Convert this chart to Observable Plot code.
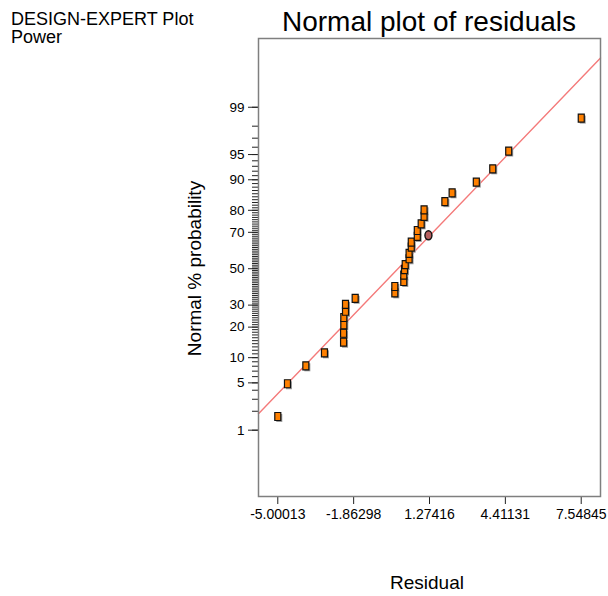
<!DOCTYPE html>
<html>
<head>
<meta charset="utf-8">
<script src="https://cdn.jsdelivr.net/npm/d3@7"></script>
<script src="https://cdn.jsdelivr.net/npm/@observablehq/plot@0.6"></script>
<style>
  html, body { margin: 0; padding: 0; background: #fff; }
  #chart { position: relative; width: 608px; height: 596px; }
</style>
</head>
<body>
<div id="chart"></div>
<script>
// ---- Data ----
const residuals = [-5.00, -4.60, -3.84, -3.07, -2.28, -2.28, -2.27, -2.27, -2.20, -2.20, -1.80,
  -0.16, -0.16, 0.21, 0.21, 0.24, 0.27, 0.43, 0.43, 0.52, 0.52, 0.77, 0.77, 0.93, 1.05, 1.05,
  1.91, 2.21, 3.21, 3.89, 4.55, 7.55];
const probabilities = [1.66, 4.87, 8.09, 11.28, 14.48, 17.63, 20.95, 24.1, 27.0, 30.4, 33.5,
  36.4, 39.9, 42.7, 46.3, 49.5, 52.4, 55.7, 58.8, 62.2, 64.9, 67.9, 70.9, 74.1, 77.5, 80.2,
  83.3, 86.3, 89.4, 92.5, 95.5, 98.5];
const highlightResidual = [1.23];
const highlightProbability = [68.5];
const lineResiduals = [-5.798, 8.346];
const lineProbabilities = [1.83, 99.88];
const xTicks = [-5.00013, -1.86298, 1.27416, 4.41131, 7.54845];
const xTickLabels = ["-5.00013", "-1.86298", "1.27416", "4.41131", "7.54845"];
const yMajorTicks = [1, 5, 10, 20, 30, 50, 70, 80, 90, 95, 99];
const yMinorTicks = d3.range(1, 100);

// inverse normal CDF (Acklam) for the probability axis
function probit(p) {
  const a = [-3.969683028665376e+01, 2.209460984245205e+02, -2.759285104469687e+02, 1.383577518672690e+02, -3.066479806614716e+01, 2.506628277459239e+00];
  const b = [-5.447609879822406e+01, 1.615858368580409e+02, -1.556989798598866e+02, 6.680131188771972e+01, -1.328068155288572e+01];
  const c = [-7.784894002430293e-03, -3.223964580411365e-01, -2.400758277161838e+00, -2.549732539343734e+00, 4.374664141464968e+00, 2.938163982698783e+00];
  const d = [7.784695709041462e-03, 3.224671290700398e-01, 2.445134137142996e+00, 3.754408661907416e+00];
  const pl = 0.02425, ph = 1 - pl;
  if (p < pl) {
    const q = Math.sqrt(-2 * Math.log(p));
    return (((((c[0]*q+c[1])*q+c[2])*q+c[3])*q+c[4])*q+c[5]) / ((((d[0]*q+d[1])*q+d[2])*q+d[3])*q+1);
  }
  if (p <= ph) {
    const q = p - 0.5, r = q * q;
    return (((((a[0]*r+a[1])*r+a[2])*r+a[3])*r+a[4])*r+a[5])*q / (((((b[0]*r+b[1])*r+b[2])*r+b[3])*r+b[4])*r+1);
  }
  const q = Math.sqrt(-2 * Math.log(1 - p));
  return -(((((c[0]*q+c[1])*q+c[2])*q+c[3])*q+c[4])*q+c[5]) / ((((d[0]*q+d[1])*q+d[2])*q+d[3])*q+1);
}
const z = pct => probit(pct / 100);

const points = residuals.map((r, i) => ({r, p: probabilities[i]}));
const highlight = highlightResidual.map((r, i) => ({r, p: highlightProbability[i]}));
const fitLine = lineResiduals.map((r, i) => ({r, p: lineProbabilities[i]}));

const squareSymbol = { draw(ctx) { ctx.moveTo(-3, -4); ctx.lineTo(3, -4); ctx.lineTo(3, 4); ctx.lineTo(-3, 4); ctx.closePath(); } };
const ellipseSymbol = { draw(ctx) {
  const rx = 3.5, ry = 4.5, k = 0.5523;
  ctx.moveTo(rx, 0);
  ctx.bezierCurveTo(rx, ry * k, rx * k, ry, 0, ry);
  ctx.bezierCurveTo(-rx * k, ry, -rx, ry * k, -rx, 0);
  ctx.bezierCurveTo(-rx, -ry * k, -rx * k, -ry, 0, -ry);
  ctx.bezierCurveTo(rx * k, -ry, rx, -ry * k, rx, 0);
  ctx.closePath();
} };

const majorZ = yMajorTicks.map(z);
const minorZ = yMinorTicks.map(z);

const plot = Plot.plot({
  width: 608,
  height: 596,
  marginLeft: 258,
  marginRight: 8,
  marginTop: 38,
  marginBottom: 100,
  style: { fontFamily: "'Liberation Sans', Arial, sans-serif", fontSize: "13px", background: "white", color: "black" },
  x: { domain: [-5.798, 8.346] },
  y: { domain: [-3.282, 3.317] },
  marks: [
    Plot.axisY(minorZ, { tickSize: 6, tickFormat: () => "", stroke: "#222", label: null }),
    Plot.axisY(majorZ, { tickSize: 10, tickPadding: 4, stroke: "#222", label: null,
      tickFormat: v => { const i = majorZ.findIndex(m => Math.abs(m - v) < 1e-9); return i >= 0 ? String(yMajorTicks[i]) : ""; } }),
    Plot.axisX(xTicks, { tickSize: 8, tickPadding: 5, stroke: "#222", label: null,
      tickFormat: v => xTickLabels[xTicks.indexOf(v)] }),
    Plot.line(fitLine, { x: "r", y: d => z(d.p), stroke: "#f47a7a", strokeWidth: 1.4 }),
    Plot.dot(points, { x: "r", y: d => z(d.p), symbol: squareSymbol, fill: "#9c9c9c", stroke: "none", dx: 1.5, dy: 1.5 }),
    Plot.dot(points, { x: "r", y: d => z(d.p), symbol: squareSymbol, fill: "#ff8000", stroke: "#111", strokeWidth: 1.2 }),
    Plot.dot(highlight, { x: "r", y: d => z(d.p), symbol: ellipseSymbol, fill: "#b65f5f", stroke: "#111", strokeWidth: 1.4 }),
    Plot.frame({ stroke: "#7f7f7f", strokeWidth: 1.5 })
  ]
});

const svg = d3.select(plot);
// tick label sizes
svg.selectAll("g[aria-label='x-axis tick label']").attr("font-size", 14).selectAll("text").attr("font-size", 14);
svg.selectAll("g[aria-label='y-axis tick label']").attr("font-size", 13.5).selectAll("text").attr("font-size", 13.5);

const font = "'Liberation Sans', Arial, sans-serif";
function label(x, y, size, txt, anchor, transform) {
  const t = svg.append("text").attr("font-family", font).attr("font-size", size)
    .attr("fill", "black").attr("text-anchor", anchor).text(txt);
  if (transform) t.attr("transform", transform); else t.attr("x", x).attr("y", y);
  return t;
}
label(11, 25, 18, "DESIGN-EXPERT Plot", "start");
label(11, 43, 18, "Power", "start");
label(429, 31, 28, "Normal plot of residuals", "middle");
label(0, 0, 19, "Normal % probability", "middle", "translate(201,268.5) rotate(-90)");
label(427, 589, 19, "Residual", "middle");

document.getElementById("chart").appendChild(plot);
</script>
</body>
</html>
